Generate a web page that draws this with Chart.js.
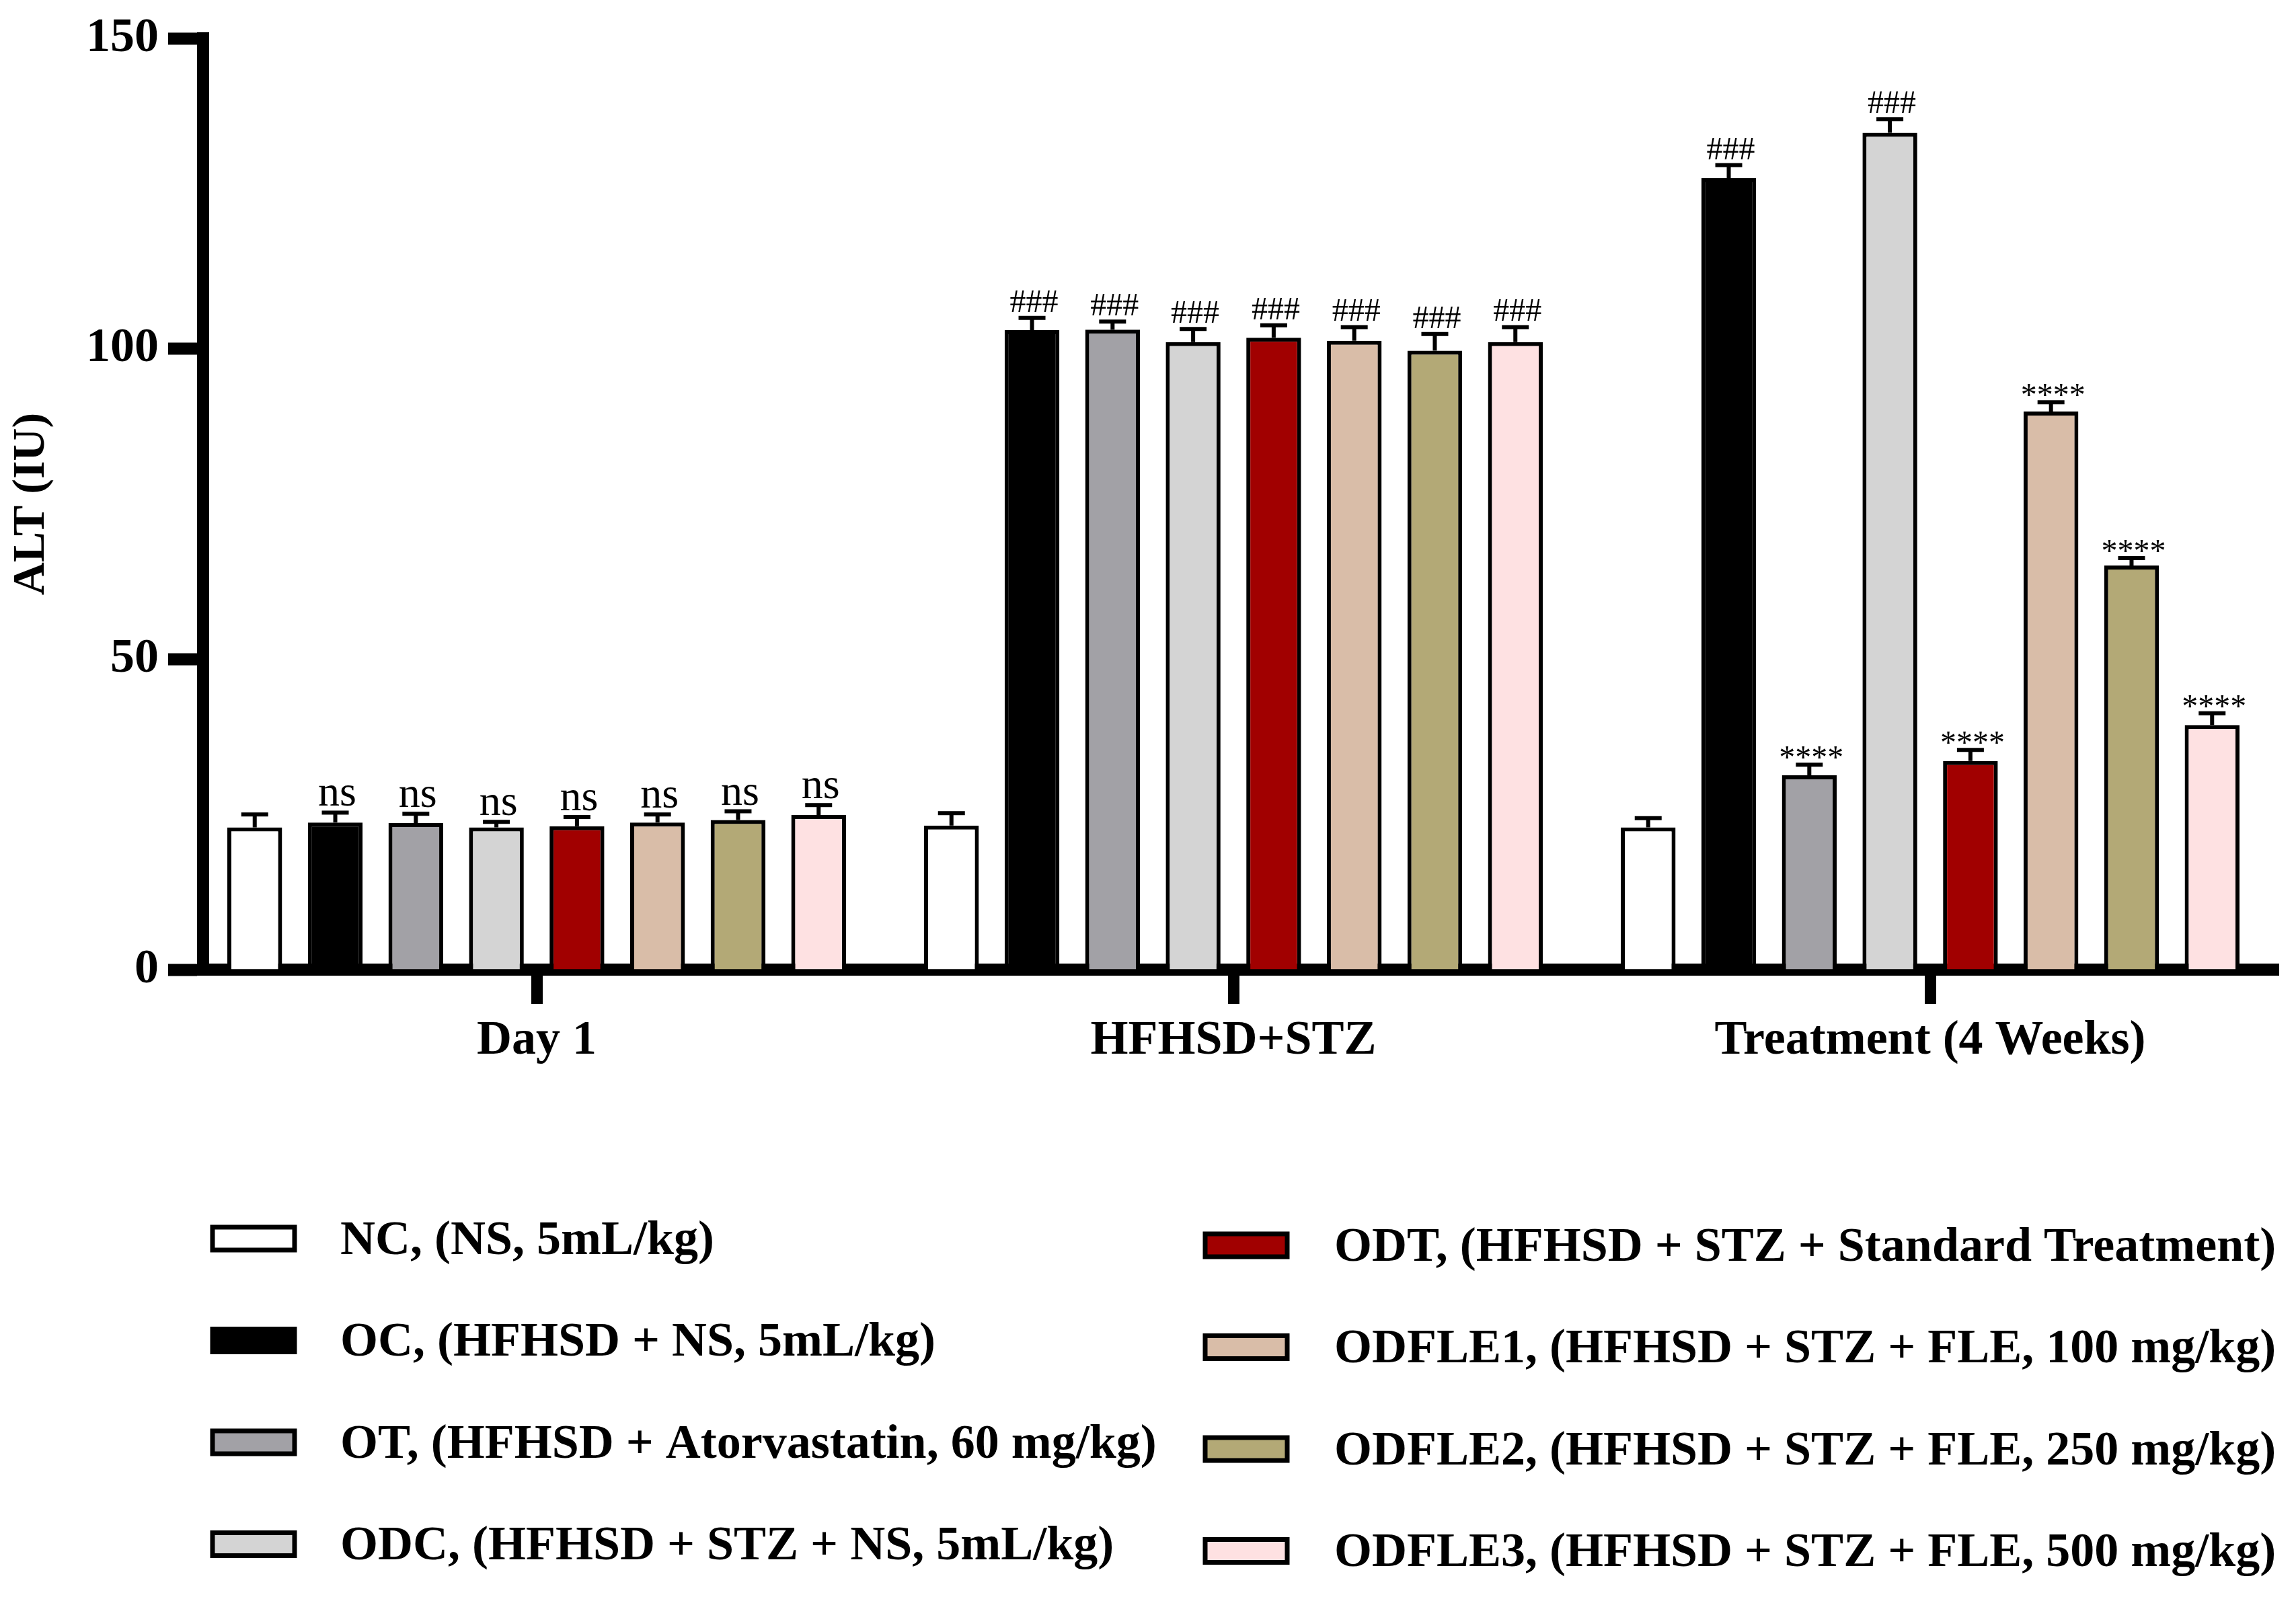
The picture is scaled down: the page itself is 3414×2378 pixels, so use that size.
<!DOCTYPE html>
<html>
<head>
<meta charset="utf-8">
<script src="https://cdn.jsdelivr.net/npm/chart.js@4.4.0/dist/chart.umd.min.js"></script>
<style>
    html, body { margin: 0; padding: 0; background: #fff; }
    #wrap { width: 3414px; height: 2378px; }
</style>
</head>
<body>
<div id="wrap"><canvas id="myChartALT"></canvas></div>
<script>
// categorias del eje x
const groups = ['Day 1', 'HFHSD+STZ', 'Treatment (4 Weeks)'];

// nombres de los grupos experimentales
const seriesNames = [
    'NC, (NS, 5mL/kg)',
    'OC, (HFHSD + NS, 5mL/kg)',
    'OT, (HFHSD + Atorvastatin, 60 mg/kg)',
    'ODC, (HFHSD + STZ + NS, 5mL/kg)',
    'ODT, (HFHSD + STZ + Standard Treatment)',
    'ODFLE1, (HFHSD + STZ + FLE, 100 mg/kg)',
    'ODFLE2, (HFHSD + STZ + FLE, 250 mg/kg)',
    'ODFLE3, (HFHSD + STZ + FLE, 500 mg/kg)'
];
const seriesColors = ['#FFFFFF', '#000000', '#A2A1A6', '#D4D4D4', '#A10000', '#D9BDA8', '#B3A976', '#FEE1E2'];

// ALT (IU) media por grupo: Day 1, HFHSD+STZ, Treatment
const valNC     = [22.9, 23.2, 22.9];
const valOC     = [23.7, 103.0, 127.5];
const valOT     = [23.6, 103.1, 31.3];
const valODC    = [22.9, 101.1, 134.8];
const valODT    = [23.1, 101.8, 33.6];
const valODFLE1 = [23.7, 101.3, 89.9];
const valODFLE2 = [24.1, 99.7, 65.1];
const valODFLE3 = [24.9, 101.1, 39.4];

// error (SEM) por grupo
const errNC     = [2.1, 2.0, 1.5];
const errOC     = [1.6, 2.0, 2.1];
const errOT     = [1.5, 1.3, 1.7];
const errODC    = [0.9, 2.1, 2.2];
const errODT    = [1.5, 2.0, 1.8];
const errODFLE1 = [1.3, 2.2, 1.5];
const errODFLE2 = [1.4, 2.7, 1.2];
const errODFLE3 = [1.6, 2.4, 1.9];

// marcas de significancia
const sigNC     = ['', '', ''];
const sigOC     = ['ns', '###', '###'];
const sigOT     = ['ns', '###', '****'];
const sigODC    = ['ns', '###', '###'];
const sigODT    = ['ns', '###', '****'];
const sigODFLE1 = ['ns', '###', '****'];
const sigODFLE2 = ['ns', '###', '****'];
const sigODFLE3 = ['ns', '###', '****'];

// y axis ticks
const yTicks = [0, 50, 100, 150];

const values = [valNC, valOC, valOT, valODC, valODT, valODFLE1, valODFLE2, valODFLE3];
const errors = [errNC, errOC, errOT, errODC, errODT, errODFLE1, errODFLE2, errODFLE3];
const sigs = [sigNC, sigOC, sigOT, sigODC, sigODT, sigODFLE1, sigODFLE2, sigODFLE3];

const SERIF = '"Liberation Serif", "Times New Roman", serif';

// GraphPad separa un poco el eje y del primer grupo
const insetX = {
    id: 'insetX',
    afterLayout(chart) {
        const x = chart.scales.x;
        x._startPixel = x.left - 22;
        x._length = x.right - x._startPixel;
    }
};

// barras de error + texto de significancia
const errorBars = {
    id: 'errorBars',
    afterDatasetsDraw(chart) {
        const ctx = chart.ctx;
        const y = chart.scales.y;
        ctx.save();
        ctx.strokeStyle = '#000';
        ctx.fillStyle = '#000';
        ctx.lineWidth = 6;
        chart.data.datasets.forEach((ds, i) => {
            const meta = chart.getDatasetMeta(i);
            meta.data.forEach((bar, j) => {
                const top = y.getPixelForValue(ds.data[j] + errors[i][j]);
                ctx.beginPath();
                ctx.moveTo(bar.x, bar.y);
                ctx.lineTo(bar.x, top);
                ctx.moveTo(bar.x - 20, top);
                ctx.lineTo(bar.x + 20, top);
                ctx.stroke();

                const s = sigs[i][j];
                if (!s) return;
                ctx.font = (s == 'ns' ? '64px ' : '48px ') + SERIF;
                ctx.textAlign = 'center';
                ctx.textBaseline = 'alphabetic';
                const m = ctx.measureText(s);
                ctx.fillText(s, bar.x + 3, top - 9 - m.actualBoundingBoxDescent);
            });
        });
        ctx.restore();
    }
};

// leyenda en dos columnas
const twoColLegend = {
    id: 'twoColLegend',
    afterDraw(chart) {
        const ctx = chart.ctx;
        ctx.save();
        ctx.font = 'bold 72px ' + SERIF;
        ctx.textAlign = 'left';
        ctx.textBaseline = 'middle';
        chart.data.datasets.forEach((ds, i) => {
            const col = i < 4 ? 0 : 1;
            const row = i % 4;
            const sx = col ? 1792 : 316;
            const cy = (col ? 1852 : 1842) + row * 151.5;
            ctx.fillStyle = ds.backgroundColor;
            ctx.fillRect(sx, cy - 17, 122, 34);
            ctx.lineWidth = 7;
            ctx.strokeStyle = '#000';
            ctx.strokeRect(sx, cy - 17, 122, 34);
            ctx.fillStyle = '#000';
            ctx.fillText(ds.label, col ? 1984 : 506, cy + 4);
        });
        ctx.restore();
    }
};

const barChartCanvas = document.getElementById('myChartALT').getContext('2d');
new Chart(barChartCanvas, {
    type: 'bar',
    data: {
        labels: groups,
        datasets: seriesNames.map((name, i) => ({
            label: name,
            data: values[i],
            backgroundColor: seriesColors[i],
            borderColor: '#000',
            borderWidth: 6,
            categoryPercentage: 0.925,
            barPercentage: 0.68
        }))
    },
    options: {
        responsive: true,
        maintainAspectRatio: false,
        devicePixelRatio: 1,
        animation: false,
        layout: { padding: { left: 0, top: 47, right: 26, bottom: 736 } },
        plugins: {
            legend: { display: false },
            tooltip: { enabled: false }
        },
        scales: {
            x: {
                afterFit: (scale) => { scale.height = 200; },
                grid: {
                    display: true, drawOnChartArea: false, offset: false,
                    tickLength: 51, tickWidth: 17, tickColor: '#000'
                },
                border: { display: true, width: 18, color: '#000' },
                ticks: {
                    color: '#000', padding: 12,
                    font: { family: SERIF, size: 72, weight: 'bold' }
                }
            },
            y: {
                min: 0, max: 150,
                afterFit: (scale) => { scale.width = 302; },
                afterBuildTicks: (scale) => { scale.ticks = yTicks.map(v => ({ value: v })); },
                grid: {
                    display: true, drawOnChartArea: false,
                    tickLength: 52, tickWidth: 18, tickColor: '#000'
                },
                border: { display: true, width: 18, color: '#000' },
                ticks: {
                    color: '#000', padding: 14,
                    font: { family: SERIF, size: 72, weight: 'bold' }
                },
                title: {
                    display: true, text: 'ALT (IU)', color: '#000',
                    padding: { top: 7, bottom: 0 },
                    font: { family: SERIF, size: 68, weight: 'bold' }
                }
            }
        }
    },
    plugins: [insetX, errorBars, twoColLegend]
});
</script>
</body>
</html>
